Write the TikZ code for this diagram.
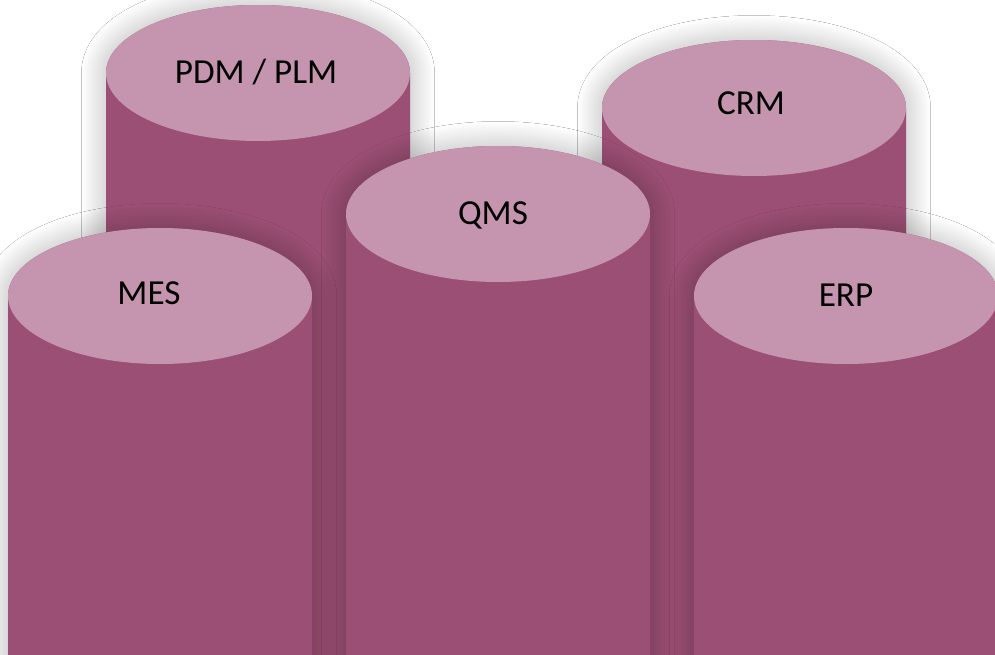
\documentclass[tikz,border=0pt]{standalone}
\usepackage{fontspec}
\setmainfont{Carlito}
\usepackage{tikz}
\usetikzlibrary{shadows.blur}
\definecolor{siloBody}{HTML}{9B4F74}
\definecolor{siloTop}{HTML}{C594AE}
\definecolor{siloShade}{HTML}{3C5058}

\begin{document}
\begin{tikzpicture}[
    x = 0.2mm, y = 0.2mm,
    body/.style = {blur shadow={fill=siloShade,
        shadow xshift=0pt, shadow yshift=0pt, shadow blur steps=30,
        shadow blur radius=14pt, shadow opacity=30}, fill=siloBody},
    lid/.style = {fill=siloTop},
    tag/.style = {font=\fontsize{20}{24}\selectfont, inner sep=0pt}
  ]
  \clip (0,0) rectangle (995,654);
  \fill[white] (0,0) rectangle (995,654);

  % back row first, then QMS, then the front row
  \foreach \cx/\cy/\tx/\ty/\name/\txt in {258/581/256/582/pdm/{PDM / PLM},
      754/546/751/551/crm/CRM, 498/440/493/439/qms/QMS,
      160/358/149/361/mes/MES, 846/358/846/359/erp/ERP}
  {
    \fill[body] (\cx-152,-20) -- (\cx-152,\cy)
      arc[start angle=180, end angle=0, x radius=152, y radius=68]
      -- (\cx+152,-20) -- cycle;
    \fill[lid] (\cx,\cy) ellipse[x radius=152, y radius=68];
    \node[tag] (\name) at (\tx,\ty) {\txt};
  }
\end{tikzpicture}
\end{document}
